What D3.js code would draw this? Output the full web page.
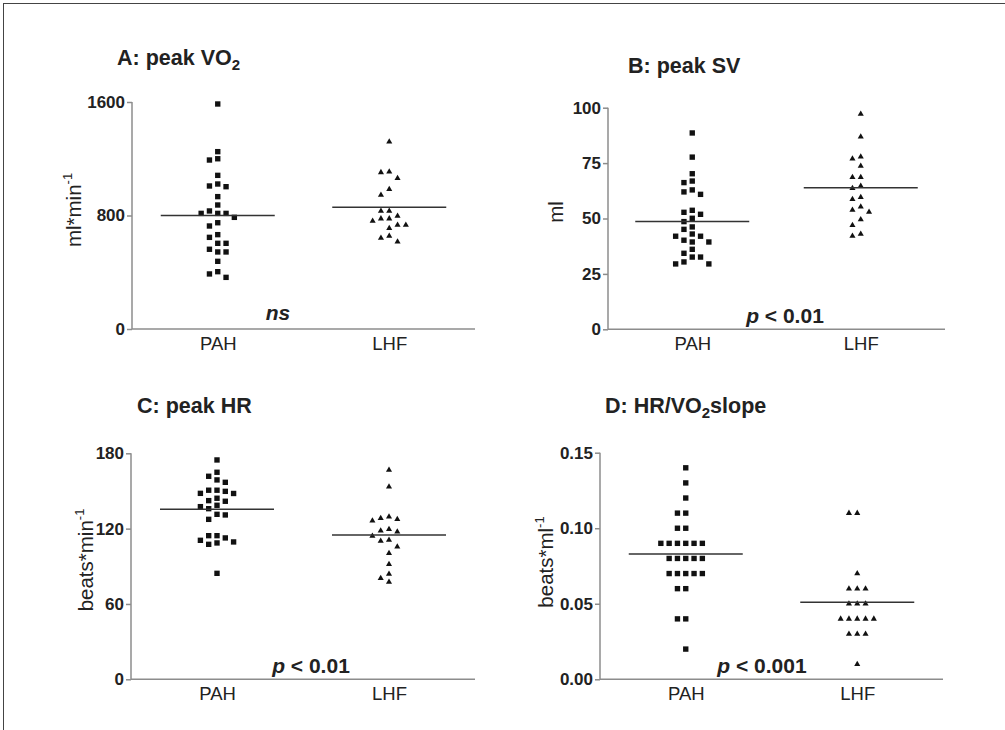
<!DOCTYPE html>
<html><head><meta charset="utf-8">
<script src="https://cdn.jsdelivr.net/npm/d3@7"></script>
<style>
html,body{margin:0;padding:0;background:#fff;}
svg{display:block;font-family:"Liberation Sans",Arial,sans-serif;}
</style></head>
<body>
<svg id="chart" width="1005" height="730"></svg>
<script>
// ---------- data ----------
const categories = ["PAH", "LHF"];

const vo2PAH = [1586,1250,1191,1200,1083,1022,1003,1008,933,874,832,815,787,815,815,749,726,665,646,604,604,562,543,543,477,404,388,364];
const vo2LHF = [1320,1109,1104,1062,985,944,832,832,796,778,778,761,733,733,710,655,641,615];
const vo2Means = [800, 858];
const vo2Ticks = [0, 800, 1600];

const svPAH = [88.6,77.7,70.2,66.2,66.9,62.0,60.9,62.9,52.8,51.9,53.7,50.1,48.6,46.2,45.1,42.0,43.0,42.0,40.2,39.4,39.4,36.1,34.3,32.6,32.6,30.4,29.5,29.5];
const svLHF = [97.2,86.9,77.9,77.0,73.7,68.6,68.6,64.7,63.6,59.6,58.7,55.3,53.8,52.9,49.6,46.9,43.0,42.1];
const svMeans = [48.7, 63.9];
const svTicks = [0, 25, 50, 75, 100];

const hrPAH = [174.7,164.9,161.7,158.8,156.9,148.0,150.6,149.7,148.1,150.6,144.2,142.3,141.8,138.6,135.9,137.5,130.9,131.4,127.4,114.4,114.4,112.6,110.7,108.6,107.5,109.4,84.4];
const hrLHF = [166.7,153.4,129.5,127.4,126.3,128.2,119.5,117.6,118.4,114.1,110.9,110.1,105.6,100.4,91.6,83.9,80.4,77.5];
const hrMeans = [135.4, 114.9];
const hrTicks = [0, 60, 120, 180];

const slopePAH = [0.14,0.13,0.12,0.11,0.11,0.10,0.10,0.09,0.09,0.09,0.09,0.09,0.09,0.08,0.08,0.08,0.08,0.08,0.07,0.07,0.07,0.07,0.07,0.06,0.06,0.04,0.04,0.02];
const slopeLHF = [0.11,0.11,0.07,0.06,0.06,0.06,0.05,0.05,0.05,0.04,0.04,0.04,0.04,0.04,0.03,0.03,0.03,0.01];
const slopeMeans = [0.083, 0.051];
const slopeTicks = [0, 0.05, 0.10, 0.15];

// ---------- layout ----------
const panels = [
  {title:["A: peak VO","2",""], tx:117, ty:65, x0:132, x1:475, yT:102, yB:329, max:1600, ticks:vo2Ticks, fmt:d3.format("d"),
   ylab:["ml*min","-1"], lx:81, ly:210, groups:[vo2PAH, vo2LHF], means:vo2Means, stat:["","ns"], sx:278, sy:320},
  {title:["B: peak SV","",""], tx:628, ty:73, x0:608, x1:945, yT:107.7, yB:329.3, max:100, ticks:svTicks, fmt:d3.format("d"),
   ylab:["ml",""], lx:563, ly:212, groups:[svPAH, svLHF], means:svMeans, stat:["p"," < 0.01"], sx:785, sy:323},
  {title:["C: peak HR","",""], tx:137, ty:413, x0:131, x1:475, yT:453.3, yB:679.3, max:180, ticks:hrTicks, fmt:d3.format("d"),
   ylab:["beats*min","-1"], lx:93, ly:560, groups:[hrPAH, hrLHF], means:hrMeans, stat:["p"," < 0.01"], sx:311, sy:673},
  {title:["D: HR/VO","2","slope"], tx:605, ty:413, x0:600, x1:943, yT:452.7, yB:679.3, max:0.15, ticks:slopeTicks, fmt:d3.format(".2f"),
   ylab:["beats*ml","-1"], lx:553, ly:562, groups:[slopePAH, slopeLHF], means:slopeMeans, stat:["p"," < 0.001"], sx:762, sy:673}
];

const svg = d3.select("#chart");
const axisColor = "#8c8c8c";

// frame
svg.append("rect").attr("x",3.5).attr("y",3.5).attr("width",1010).attr("height",1010)
  .attr("fill","none").attr("stroke","#444").attr("stroke-width",1);

const square = d3.symbol().type(d3.symbolSquare).size(29);
const tri = d3.symbol().type(d3.symbolTriangle).size(16);

function dodge(values, y, spacing, h) {
  const order = [0,-1,1,-2,2,-3,3,-4,4,-5,5];
  const placed = [];
  const sorted = values.map((v,i)=>({v,i})).sort((a,b)=>b.v-a.v);
  const out = [];
  sorted.forEach(p => {
    const py = y(p.v);
    for (const k of order) {
      const clash = placed.some(q => q.k===k && Math.abs(q.y-py) < h);
      if (!clash) { placed.push({k, y:py}); out.push({v:p.v, y:py, dx:k*spacing}); break; }
    }
  });
  return out;
}

panels.forEach(P => {
  const g = svg.append("g");
  const y = d3.scaleLinear().domain([0, P.max]).range([P.yB, P.yT]);
  const x = d3.scalePoint().domain(categories).range([P.x0, P.x1]).padding(0.5);

  // title
  const t = g.append("text").attr("x",P.tx).attr("y",P.ty)
    .attr("font-size",21.5).attr("font-weight","bold").attr("fill","#222");
  t.append("tspan").text(P.title[0]);
  if (P.title[1]) t.append("tspan").attr("font-size",15).attr("dy",5).text(P.title[1]);
  if (P.title[2]) t.append("tspan").attr("dy",-5).text(P.title[2]);

  // y axis
  const ya = d3.axisLeft(y).tickValues(P.ticks).tickFormat(P.fmt).tickSize(5).tickPadding(2);
  const yg = g.append("g").attr("transform",`translate(${P.x0},0)`).call(ya);
  yg.select(".domain").attr("stroke",axisColor).attr("stroke-width",1.5).attr("d",`M0,${P.yT}V${P.yB}`);
  yg.selectAll(".tick line").attr("stroke",axisColor).attr("stroke-width",1.5);
  yg.selectAll(".tick text").attr("font-size",17).attr("font-weight","bold").attr("fill","#222")
    .attr("font-family","'Liberation Sans',Arial,sans-serif");

  // x axis
  const xa = d3.axisBottom(x).tickSize(0).tickPadding(8);
  const xg = g.append("g").attr("transform",`translate(0,${P.yB})`).call(xa);
  xg.select(".domain").attr("stroke",axisColor).attr("stroke-width",1.5).attr("d",`M${P.x0},0H${P.x1}`);
  xg.selectAll(".tick text").attr("font-size",18.5).attr("fill","#222")
    .attr("font-family","'Liberation Sans',Arial,sans-serif");

  // y label
  const yl = g.append("text").attr("transform",`translate(${P.lx},${P.ly}) rotate(-90)`)
    .attr("text-anchor","middle").attr("font-size",20.5).attr("fill","#222");
  yl.append("tspan").text(P.ylab[0]);
  if (P.ylab[1]) yl.append("tspan").attr("font-size",13).attr("dy",-9).text(P.ylab[1]);

  // points
  P.groups.forEach((vals, gi) => {
    const cx = x(categories[gi]);
    const pts = dodge(vals, y, 8.3, 7);
    g.append("g").selectAll("path").data(pts).join("path")
      .attr("d", gi===0 ? square : tri)
      .attr("transform", d => `translate(${cx + d.dx},${d.y})`)
      .attr("fill","#111");
    // mean line
    g.append("line").attr("x1",cx-57).attr("x2",cx+57)
      .attr("y1",y(P.means[gi])).attr("y2",y(P.means[gi]))
      .attr("stroke","#333").attr("stroke-width",1.5);
  });

  // stat text
  const st = g.append("text").attr("x",P.sx).attr("y",P.sy).attr("text-anchor","middle")
    .attr("font-size",21).attr("font-weight","bold").attr("fill","#222");
  if (P.stat[0]) st.append("tspan").attr("font-style","italic").text(P.stat[0]);
  st.append("tspan").attr("font-style", P.stat[0] ? "normal" : "italic").text(P.stat[1]);
});
</script>
</body></html>
